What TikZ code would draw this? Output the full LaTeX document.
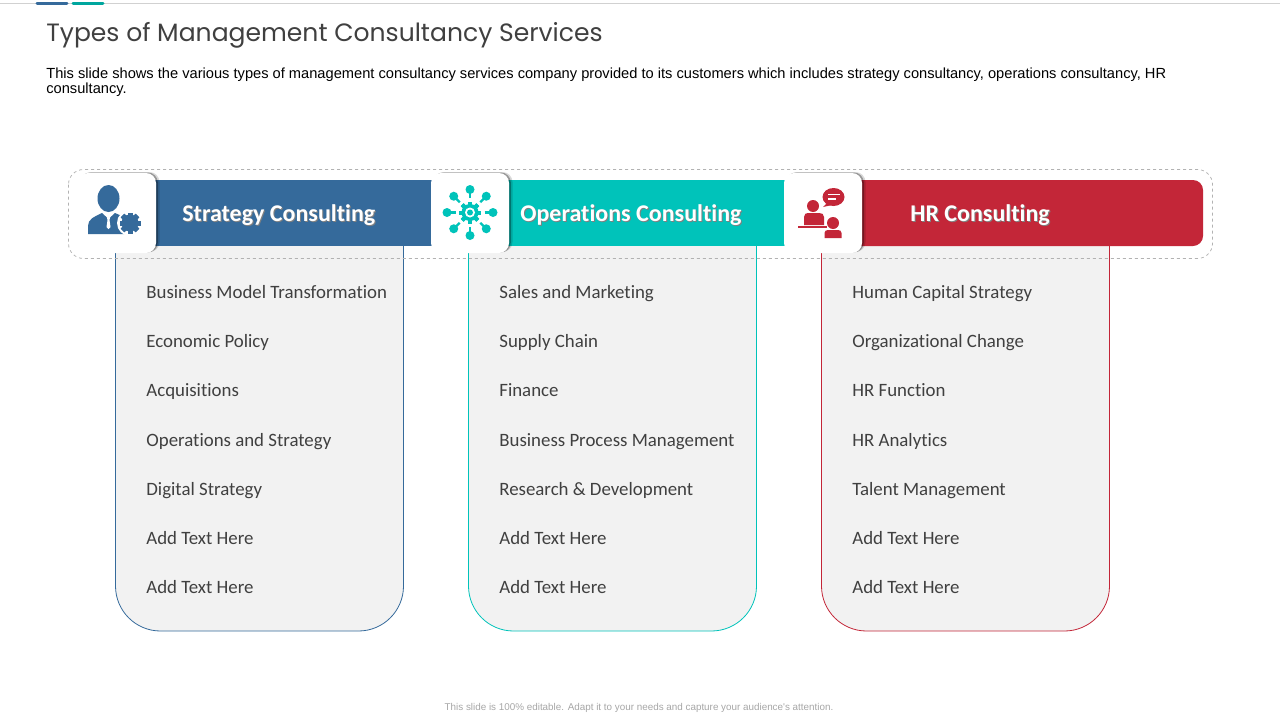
\documentclass[tikz,border=0pt]{standalone}
\usepackage{fontspec}
\usetikzlibrary{shadows}
\setmainfont[Ligatures=NoCommon]{Carlito}
\newfontfamily\titlefont{Poppins}
\newfontfamily\descfont{Liberation Sans}
\definecolor{stratblue}{RGB}{53,106,155}
\definecolor{opsteal}{RGB}{0,195,186}
\definecolor{hrred}{RGB}{195,38,56}
\definecolor{panelgrey}{RGB}{242,242,242}
\definecolor{textgrey}{RGB}{64,64,64}
\tikzset{
    every picture/.style={line width=0.75pt},
    listtext/.style={anchor=base west,inner sep=0pt,text=textgrey,font=\fontsize{18.85}{22}\selectfont},
    headtext/.style={anchor=base west,inner sep=0pt,text=white,font=\fontsize{24}{28}\selectfont\bfseries},
    headshade/.style={anchor=base west,inner sep=0pt,text=black!50,font=\fontsize{24}{28}\selectfont\bfseries},
    iconbox/.style={fill=white,rounded corners=10,
        general shadow={fill=black,fill opacity=0.15,shadow xshift=3.5pt,shadow yshift=1pt},
        general shadow={fill=black,fill opacity=0.3,shadow xshift=1.8pt,shadow yshift=0.5pt}},
    panel/.style={fill=panelgrey,line width=0.8pt},
}
\begin{document}
\begin{tikzpicture}[x=1pt,y=1pt,yscale=-1,xscale=1]
    \useasboundingbox (0,0) rectangle (1280,720);

    %Shape: top rule and tabs
    \draw [color=black!18,line width=1] (0,3.5) -- (1280,3.5);
    \draw [color=stratblue,line width=3,line cap=round] (37,3) -- (67,3);
    \draw [color=opsteal!85!black,line width=3,line cap=round] (73,3) -- (103,3);

    % Text Node
    \node (title) [anchor=base west,inner sep=0pt,text=textgrey,font=\titlefont\fontsize{25.05}{30}\selectfont] at (46,41.5) {Types of Management Consultancy Services};
    % Text Node
    \node (descone) [anchor=base west,inner sep=0pt,font=\descfont\fontsize{14.65}{17}\selectfont] at (46,78.5) {This slide shows the various types of management consultancy services company provided to its customers which includes strategy consultancy, operations consultancy, HR};
    % Text Node
    \node (desctwo) [anchor=base west,inner sep=0pt,font=\descfont\fontsize{14.65}{17}\selectfont] at (46,93.5) {consultancy.};

    %Shape: panels
    \draw [panel,draw=stratblue] (115.5,240) [rounded corners=45] -- (115.5,631) -- (403.5,631) [sharp corners] -- (403.5,240) -- cycle;
    \draw [panel,draw=opsteal] (468.5,240) [rounded corners=45] -- (468.5,631) -- (756.5,631) [sharp corners] -- (756.5,240) -- cycle;
    \draw [panel,draw=hrred] (821.5,240) [rounded corners=45] -- (821.5,631) -- (1109.5,631) [sharp corners] -- (1109.5,240) -- cycle;

    %Shape: dashed frame
    \draw [color=black!30,dashed,rounded corners=15] (68.5,169.5) rectangle (1212.5,258.5);

    %Shape: header bars
    \fill [stratblue] (150,180) rectangle (433,246);
    \fill [opsteal] (500,180) rectangle (786,246);
    \fill [hrred] (850,180) [rounded corners=10] -- (1203,180) -- (1203,246) [sharp corners] -- (850,246) -- cycle;

    %Shape: icon boxes
    \path [iconbox] (78,173) rectangle (156,253);
    \path [iconbox] (431,173) rectangle (509,253);
    \path [iconbox] (784,173) rectangle (862,253);

    %Icon: man with gear
    \fill [stratblue] (108.5,198.5) ellipse [x radius=11,y radius=13.5];
    \fill [stratblue] (88,234) -- (88,226) .. controls (88,219) and (94,217) .. (102,213) -- (108.5,219) -- (115,213) .. controls (122,216) and (127,218) .. (129,222) -- (125,234) -- cycle;
    \fill [white] (106.5,215.5) -- (110.5,215.5) -- (109.5,220) -- (110.5,227) -- (108.5,229) -- (106.5,227) -- (107.5,220) -- cycle;
    \fill [white] (130,223) circle [radius=13];
    \foreach \a in {0,45,...,315}
        \fill [stratblue,rotate around={\a:(130,223)}] (127.5,212.5) rectangle (132.5,233.5);
    \fill [stratblue] (130,223) circle [radius=8.5];

    %Icon: hub with spokes
    \foreach \a in {0,45,...,315}{
        \draw [opsteal,line width=2.2] (470,212.5) ++(\a:14.5) -- ++(\a:7);
        \fill [opsteal] (470,212.5) ++(\a:23) circle [radius=4.5];
        \fill [opsteal,rotate around={\a:(470,212.5)}] (468,201.5) rectangle (472,223.5);
    }
    \fill [opsteal] (470,212.5) circle [radius=8.5];
    \fill [white] (470,212.5) circle [radius=5];
    \fill [opsteal] (470,212.5) circle [radius=3];

    %Icon: people talking
    \fill [hrred] (833.5,197) ellipse [x radius=11,y radius=9];
    \fill [hrred] (827,203) -- (823,207) -- (832,205) -- cycle;
    \draw [white,line width=1.2] (828,194.5) -- (840,194.5) (828,199) -- (836,199);
    \fill [hrred] (813,206) circle [radius=6];
    \fill [hrred] (804,225) -- (804,217) .. controls (804,214) and (806,213) .. (808,213) -- (819,213) .. controls (822,213) and (824,214) .. (824,217) -- (824,225) -- cycle;
    \fill [hrred] (798,225.5) rectangle (827,228);
    \fill [hrred] (833,223) circle [radius=6];
    \fill [hrred] (824.5,238) -- (824.5,233) .. controls (824.5,231) and (826,230) .. (828,230) -- (838,230) .. controls (840,230) and (841.5,231) .. (841.5,233) -- (841.5,238) -- cycle;

    % Text Node
    \node (stratshade) [headshade] at (183,222) {Strategy Consulting};
    \node (strathead) [headtext] at (182,221) {Strategy Consulting};
    % Text Node
    \node (opsshade) [headshade] at (521,222) {Operations Consulting};
    \node (opshead) [headtext] at (520,221) {Operations Consulting};
    % Text Node
    \node (hrshade) [headshade] at (911,222) {HR Consulting};
    \node (hrhead) [headtext] at (910,221) {HR Consulting};

    % Text Node
    \node (stratA) [listtext] at (146,298) {Business Model Transformation};
    \node (stratB) [listtext] at (146,347) {Economic Policy};
    \node (stratC) [listtext] at (146,396) {Acquisitions};
    \node (stratD) [listtext] at (146,446) {Operations and Strategy};
    \node (stratE) [listtext] at (146,495) {Digital Strategy};
    \node (stratF) [listtext] at (146,544) {Add Text Here};
    \node (stratG) [listtext] at (146,593) {Add Text Here};
    % Text Node
    \node (opsA) [listtext] at (499,298) {Sales and Marketing};
    \node (opsB) [listtext] at (499,347) {Supply Chain};
    \node (opsC) [listtext] at (499,396) {Finance};
    \node (opsD) [listtext] at (499,446) {Business Process Management};
    \node (opsE) [listtext] at (499,495) {Research \& Development};
    \node (opsF) [listtext] at (499,544) {Add Text Here};
    \node (opsG) [listtext] at (499,593) {Add Text Here};
    % Text Node
    \node (hrA) [listtext] at (852,298) {Human Capital Strategy};
    \node (hrB) [listtext] at (852,347) {Organizational Change};
    \node (hrC) [listtext] at (852,396) {HR Function};
    \node (hrD) [listtext] at (852,446) {HR Analytics};
    \node (hrE) [listtext] at (852,495) {Talent Management};
    \node (hrF) [listtext] at (852,544) {Add Text Here};
    \node (hrG) [listtext] at (852,593) {Add Text Here};

    % Text Node
    \node (footer) [inner sep=0pt,text=black!35,font=\descfont\fontsize{9.86}{11}\selectfont] at (639,707.5) {This slide is 100\% editable. Adapt it to your needs and capture your audience's attention.};
\end{tikzpicture}
\end{document}
